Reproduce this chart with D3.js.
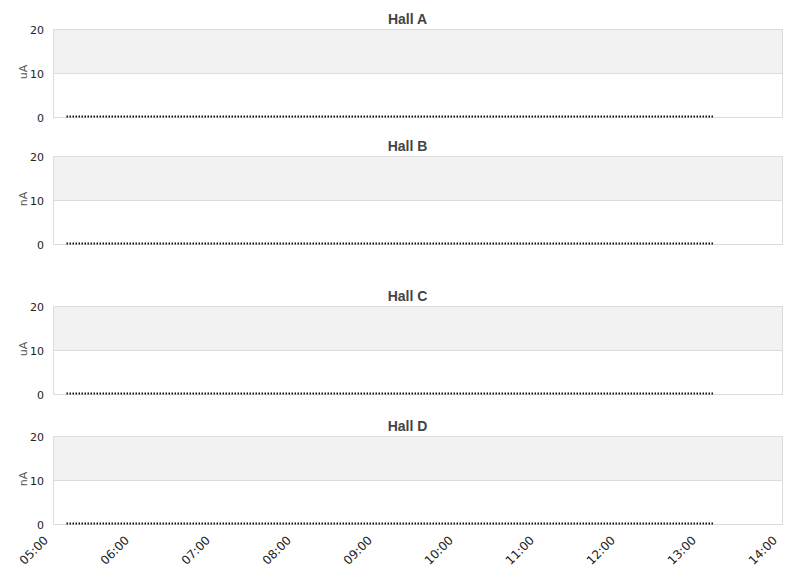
<!DOCTYPE html>
<html>
<head>
<meta charset="utf-8">
<script src="https://cdn.jsdelivr.net/npm/d3@7"></script>
<style>
  body { margin: 0; background: #fff; }
  svg { display: block; }
</style>
</head>
<body>
<svg width="811" height="578"></svg>
<script>
  // halls, units and where each panel sits
  const halls = ['Hall A', 'Hall B', 'Hall C', 'Hall D'];
  const units = ['uA', 'nA', 'uA', 'nA'];
  const panelTops = [29, 156, 306, 436];

  const yTicks = [0, 10, 20];
  const xTickLabels = ['05:00', '06:00', '07:00', '08:00', '09:00', '10:00', '11:00', '12:00', '13:00', '14:00'];

  // sample times (same for every hall)
  const times = [
    '05:10', '05:20', '05:30', '05:40', '05:50', '06:00', '06:10', '06:20', '06:30', '06:40', '06:50',
    '07:00', '07:10', '07:20', '07:30', '07:40', '07:50', '08:00', '08:10', '08:20', '08:30', '08:40', '08:50',
    '09:00', '09:10', '09:20', '09:30', '09:40', '09:50', '10:00', '10:10', '10:20', '10:30', '10:40', '10:50',
    '11:00', '11:10', '11:20', '11:30', '11:40', '11:50', '12:00', '12:10', '12:20', '12:30', '12:40', '12:50',
    '13:00', '13:09'
  ];

  // current readings per hall, all at zero
  const hallA = [0,0,0,0,0,0,0,0,0,0,0,0,0,0,0,0,0,0,0,0,0,0,0,0,0,0,0,0,0,0,0,0,0,0,0,0,0,0,0,0,0,0,0,0,0,0,0,0,0];
  const hallB = [0,0,0,0,0,0,0,0,0,0,0,0,0,0,0,0,0,0,0,0,0,0,0,0,0,0,0,0,0,0,0,0,0,0,0,0,0,0,0,0,0,0,0,0,0,0,0,0,0];
  const hallC = [0,0,0,0,0,0,0,0,0,0,0,0,0,0,0,0,0,0,0,0,0,0,0,0,0,0,0,0,0,0,0,0,0,0,0,0,0,0,0,0,0,0,0,0,0,0,0,0,0];
  const hallD = [0,0,0,0,0,0,0,0,0,0,0,0,0,0,0,0,0,0,0,0,0,0,0,0,0,0,0,0,0,0,0,0,0,0,0,0,0,0,0,0,0,0,0,0,0,0,0,0,0];
  const series = [hallA, hallB, hallC, hallD];

  const parseTime = d3.timeParse('%H:%M');

  const svg = d3.select('svg');
  const width = +svg.attr('width');

  const left = 53, right = 782, plotH = 88;

  const x = d3.scaleTime()
    .domain([parseTime(xTickLabels[0]), parseTime(xTickLabels[xTickLabels.length - 1])])
    .range([left, right]);

  const y = d3.scaleLinear().domain([0, 20]).range([plotH, 0]);

  const line = d3.line()
    .x(d => x(d.t))
    .y(d => y(d.v) - 0.5);

  halls.forEach((hall, i) => {
    const g = svg.append('g').attr('transform', `translate(0,${panelTops[i]})`);

    // alternating bands
    g.append('rect')
      .attr('x', left).attr('width', right - left)
      .attr('y', y(20)).attr('height', y(10) - y(20))
      .attr('fill', '#f2f2f2');

    // grid lines
    g.selectAll('.grid').data(yTicks).enter().append('line')
      .attr('class', 'grid')
      .attr('x1', left).attr('x2', right)
      .attr('y1', d => y(d) + 0.5).attr('y2', d => y(d) + 0.5)
      .attr('stroke', '#dcdcdc');

    // plot border
    g.append('rect')
      .attr('x', left + 0.5).attr('y', 0.5)
      .attr('width', right - left).attr('height', plotH)
      .attr('fill', 'none')
      .attr('stroke', '#dcdcdc');

    // y axis tick labels
    g.selectAll('.ylab').data(yTicks).enter().append('text')
      .attr('class', 'ylab')
      .attr('x', 44)
      .attr('y', d => y(d) + 5)
      .attr('text-anchor', 'end')
      .style('font', '11px "DejaVu Sans", sans-serif')
      .attr('fill', '#222')
      .text(d => d);

    // unit label
    g.append('text')
      .attr('transform', `translate(27,${plotH / 2 - 1}) rotate(-90)`)
      .attr('text-anchor', 'middle')
      .style('font', '11px "DejaVu Sans", sans-serif')
      .attr('fill', '#555')
      .text(units[i]);

    // title
    g.append('text')
      .attr('x', width / 2 + 2)
      .attr('y', -5)
      .attr('text-anchor', 'middle')
      .style('font', 'bold 14px "Liberation Sans", Arial, sans-serif')
      .attr('fill', '#444')
      .text(hall);

    // data line, dotted
    const data = times.map((t, j) => ({ t: parseTime(t), v: series[i][j] }));
    g.append('path')
      .datum(data)
      .attr('d', line)
      .attr('fill', 'none')
      .attr('stroke', '#111')
      .attr('stroke-width', 2)
      .attr('stroke-dasharray', '1.5,1.5');
  });

  // x axis labels under the last panel
  const lastTop = panelTops[panelTops.length - 1];
  svg.selectAll('.xlab').data(xTickLabels).enter().append('text')
    .attr('class', 'xlab')
    .attr('transform', d => `translate(${x(parseTime(d)) - 4},${lastTop + plotH + 17}) rotate(-45)`)
    .attr('text-anchor', 'end')
    .style('font', '12px "DejaVu Sans", sans-serif')
    .attr('fill', '#222')
    .text(d => d);
</script>
</body>
</html>
